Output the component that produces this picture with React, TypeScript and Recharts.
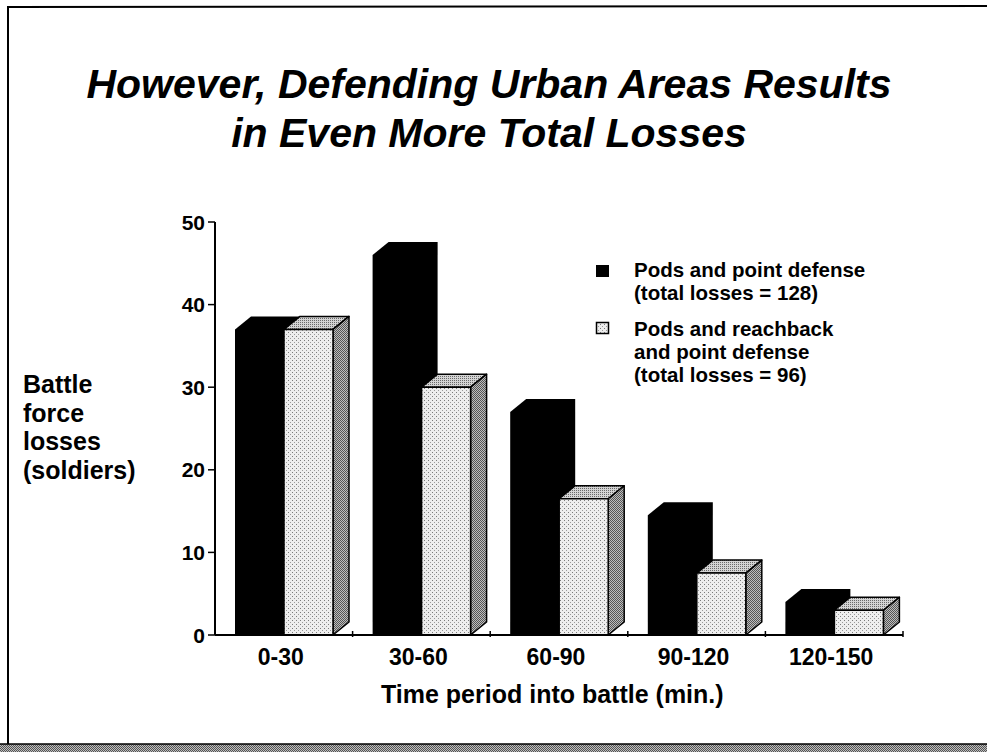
import { BarChart, Bar, XAxis, YAxis } from "recharts";

const periods = ["0-30", "30-60", "60-90", "90-120", "120-150"];
const pointDefense = [37, 46, 27, 14.5, 4];
const reachback = [37, 30, 16.5, 7.5, 3];
const yTicks = [0, 10, 20, 30, 40, 50];

const titleLines = ["However, Defending Urban Areas Results", "in Even More Total Losses"];
const yLabelLines = ["Battle", "force", "losses", "(soldiers)"];
const legendBlack = ["Pods and point defense", "(total losses = 128)"];
const legendGray = ["Pods and reachback", "and point defense", "(total losses = 96)"];

const data = periods.map((period, i) => ({
  period,
  pointDefense: pointDefense[i],
  reachback: reachback[i],
}));

const FONT = "'Liberation Sans', Arial, Helvetica, sans-serif";
const DX = 16;
const DY = 13;

const pts = (arr: number[][]) => arr.map((p) => p.join(",")).join(" ");

const BlackBox = (props: any) => {
  const { x, y, width: w, height: h } = props;
  if (!h) return null;
  return (
    <polygon
      points={pts([[x, y + h], [x, y], [x + DX, y - DY], [x + w + DX, y - DY], [x + w + DX, y + h - DY], [x + w, y + h]])}
      fill="#000"
    />
  );
};

const GrayBox = (props: any) => {
  const { x, y, width: w, height: h } = props;
  if (!h) return null;
  return (
    <g stroke="#000" strokeWidth={1.5} strokeLinejoin="round">
      <polygon points={pts([[x, y], [x + DX, y - DY], [x + w + DX, y - DY], [x + w, y]])} fill="url(#topDots)" />
      <polygon points={pts([[x + w, y], [x + w + DX, y - DY], [x + w + DX, y + h - DY], [x + w, y + h]])} fill="url(#sideHatch)" />
      <rect x={x} y={y} width={w} height={h} fill="url(#frontDots)" />
    </g>
  );
};

const PeriodTick = (props: any) => {
  const { x, y, payload } = props;
  const edge = x + (payload.offset ?? 0);
  return (
    <g>
      <line x1={edge} y1={y} x2={edge} y2={y - 6} stroke="#000" strokeWidth={1.5} />
      <text x={x - 3} y={y + 28} textAnchor="middle" fontSize={23} fontWeight="bold" fontFamily={FONT} fill="#000">
        {payload.value}
      </text>
    </g>
  );
};

const ValueTick = (props: any) => {
  const { x, y, payload } = props;
  return (
    <text x={x} y={y + 7.5} textAnchor="end" fontSize={21} fontWeight="bold" fontFamily={FONT} fill="#000">
      {payload.value}
    </text>
  );
};

export default function App() {
  return (
    <div style={{ position: "absolute", left: 0, top: 0, width: 987, height: 752, background: "#fff" }}>
      <svg width={0} height={0} style={{ position: "absolute" }}>
        <defs>
          <pattern id="frontDots" width={4} height={4} patternUnits="userSpaceOnUse">
            <rect width={4} height={4} fill="#eeeeee" />
            <rect x={0} y={0} width={1} height={1} fill="#7a7a7a" />
            <rect x={2} y={2} width={1} height={1} fill="#9a9a9a" />
          </pattern>
          <pattern id="topDots" width={2} height={2} patternUnits="userSpaceOnUse">
            <rect width={2} height={2} fill="#d4d4d4" />
            <rect x={0} y={0} width={1} height={1} fill="#6a6a6a" />
          </pattern>
          <pattern id="sideHatch" width={2} height={2} patternUnits="userSpaceOnUse">
            <rect width={2} height={2} fill="#bdbdbd" />
            <rect x={0} y={0} width={1} height={1} fill="#555" />
            <rect x={1} y={1} width={1} height={1} fill="#555" />
          </pattern>
        </defs>
      </svg>

      <BarChart
        width={987}
        height={752}
        data={data}
        margin={{ top: 222, right: 84, bottom: 87, left: 155 }}
        barSize={49}
        barGap={0}
      >
        <XAxis
          dataKey="period"
          axisLine={{ stroke: "#000", strokeWidth: 2 }}
          tickLine={false}
          tickSize={0}
          tick={<PeriodTick />}
          interval={0}
          height={30}
        />
        <YAxis
          domain={[0, 50]}
          ticks={yTicks}
          width={60}
          axisLine={{ stroke: "#000", strokeWidth: 2 }}
          tickLine={{ stroke: "#000", strokeWidth: 1.5 }}
          tickSize={7}
          tickMargin={3}
          tick={<ValueTick />}
        />
        <Bar dataKey="pointDefense" shape={<BlackBox />} isAnimationActive={false} />
        <Bar dataKey="reachback" shape={<GrayBox />} isAnimationActive={false} />
      </BarChart>

      <svg width={987} height={752} style={{ position: "absolute", left: 0, top: 0, pointerEvents: "none" }}>
        <g fontFamily={FONT} fill="#000">
          {titleLines.map((t, i) => (
            <text key={t} x={489} y={98 + i * 49} textAnchor="middle" fontSize={41} fontWeight="bold" fontStyle="italic">
              {t}
            </text>
          ))}
          {yLabelLines.map((t, i) => (
            <text key={t} x={23} y={393 + i * 28.5} fontSize={25} fontWeight="bold">
              {t}
            </text>
          ))}
          <text x={381} y={703} fontSize={25} fontWeight="bold">
            Time period into battle (min.)
          </text>
          <rect x={596} y={265} width={13} height={12} fill="#000" />
          {legendBlack.map((t, i) => (
            <text key={t} x={634} y={277 + i * 23} fontSize={20.5} fontWeight="bold">
              {t}
            </text>
          ))}
          <rect x={596.5} y={322.5} width={12} height={11} fill="url(#frontDots)" stroke="#000" strokeWidth={1.5} />
          {legendGray.map((t, i) => (
            <text key={t} x={634} y={336 + i * 23} fontSize={20.5} fontWeight="bold">
              {t}
            </text>
          ))}
        </g>
        <line x1={8} y1={7} x2={8} y2={745} stroke="#000" strokeWidth={2} />
        <line x1={7} y1={7} x2={987} y2={6} stroke="#000" strokeWidth={2} />
        <rect x={0} y={744} width={987} height={8} fill="url(#sideHatch)" />
        <line x1={0} y1={744} x2={987} y2={744} stroke="#000" strokeWidth={1.5} />
      </svg>
    </div>
  );
}
